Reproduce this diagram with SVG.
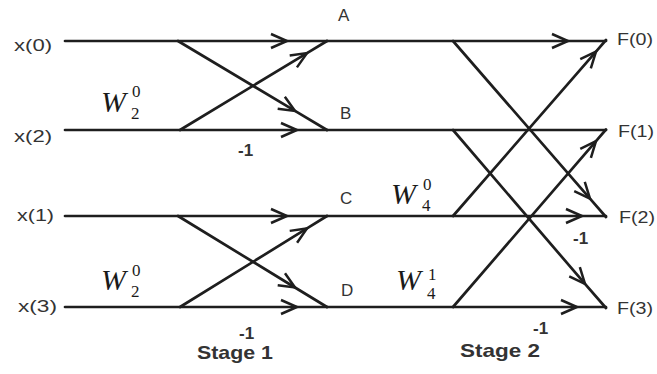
<svg xmlns="http://www.w3.org/2000/svg" width="657" height="374" viewBox="0 0 657 374">
<style>
.ln{fill:none;stroke:#1e1e1e;stroke-width:2.7;stroke-linecap:round;marker-mid:url(#arr)}
.lbl{font-family:"Liberation Sans",Arial,sans-serif;font-size:16px;fill:#333}
.node{font-family:"Liberation Sans",Arial,sans-serif;font-size:17px;fill:#333}
.num{font-family:"Liberation Sans",Arial,sans-serif;font-size:17px;font-weight:bold;fill:#333}
.stage{font-family:"Liberation Sans",Arial,sans-serif;font-size:19px;font-weight:bold;fill:#333}
.w{font-family:"Liberation Serif","Times New Roman",serif;font-style:italic;font-size:30px;fill:#1a1a1a}
.s{font-family:"Liberation Serif","Times New Roman",serif;font-size:17px;fill:#1a1a1a}
</style>
<defs>
<marker id="arr" viewBox="-20 -10 22 20" refX="0" refY="0" markerWidth="22" markerHeight="20" markerUnits="userSpaceOnUse" orient="auto">
<path d="M-16,-7 L0,0 L-16,7" fill="none" stroke="#1e1e1e" stroke-width="2.5"/>
</marker>
</defs>
<rect width="657" height="374" fill="#ffffff"/>
<g id="connectors">
<path class="ln" d="M65,41 L287,41 L327,41"/>
<path class="ln" d="M65,130 L297,130 L327,130"/>
<path class="ln" d="M180,130 L307,53.1 L327,41"/>
<path class="ln" d="M178,41 L295,110.9 L327,130"/>
<path class="ln" d="M65,216 L287,216 L327,216"/>
<path class="ln" d="M65,307 L297,307 L327,307"/>
<path class="ln" d="M180,307 L307,228.4 L327,216"/>
<path class="ln" d="M178,216 L295,287.5 L327,307"/>
<path class="ln" d="M327,41 L568,41 L606,41"/>
<path class="ln" d="M327,130 L606,130"/>
<path class="ln" d="M327,216 L582,216 L606,216"/>
<path class="ln" d="M327,307 L577,307 L606,307"/>
<path class="ln" d="M453,41 L590,198.6 L606,217"/>
<path class="ln" d="M453,216 L596,51.6 L606,40"/>
<path class="ln" d="M453,130 L585,283.9 L606,308"/>
<path class="ln" d="M453,307 L596,141.2 L606,129.5"/>
</g>
<g id="inputs">
<text class="lbl" x="14" y="51" textLength="38" lengthAdjust="spacingAndGlyphs">x(0)</text>
<text class="lbl" x="14" y="142" textLength="38" lengthAdjust="spacingAndGlyphs">x(2)</text>
<text class="lbl" x="17" y="221" textLength="37" lengthAdjust="spacingAndGlyphs">x(1)</text>
<text class="lbl" x="18" y="312" textLength="39" lengthAdjust="spacingAndGlyphs">x(3)</text>
</g>
<g id="outputs">
<text class="lbl" x="617" y="45" textLength="36" lengthAdjust="spacingAndGlyphs">F(0)</text>
<text class="lbl" x="618" y="137" textLength="36" lengthAdjust="spacingAndGlyphs">F(1)</text>
<text class="lbl" x="619" y="223" textLength="36" lengthAdjust="spacingAndGlyphs">F(2)</text>
<text class="lbl" x="617" y="314" textLength="36" lengthAdjust="spacingAndGlyphs">F(3)</text>
</g>
<g id="nodes">
<text class="node" x="338" y="21">A</text>
<text class="node" x="340" y="119">B</text>
<text class="node" x="340" y="204">C</text>
<text class="node" x="341" y="296">D</text>
</g>
<g id="weights">
<text class="w" x="101" y="112">W</text><text class="s" x="132" y="97">0</text><text class="s" x="131" y="119">2</text>
<text class="w" x="101" y="290">W</text><text class="s" x="132" y="276">0</text><text class="s" x="131" y="297">2</text>
<text class="w" x="391" y="204">W</text><text class="s" x="423" y="190">0</text><text class="s" x="422" y="211">4</text>
<text class="w" x="396" y="290">W</text><text class="s" x="428" y="280">1</text><text class="s" x="427" y="299">4</text>
</g>
<g id="multipliers">
<text class="num" x="238" y="156">-1</text>
<text class="num" x="239" y="339">-1</text>
<text class="num" x="573" y="244">-1</text>
<text class="num" x="533" y="334">-1</text>
</g>
<g id="stages">
<text class="stage" x="197" y="359" textLength="76" lengthAdjust="spacingAndGlyphs">Stage 1</text>
<text class="stage" x="460" y="357" textLength="80" lengthAdjust="spacingAndGlyphs">Stage 2</text>
</g>
</svg>
